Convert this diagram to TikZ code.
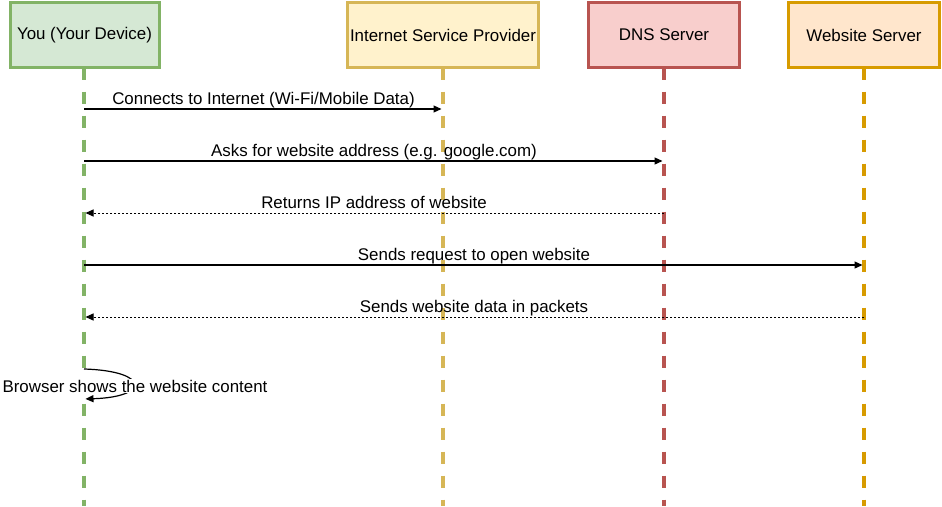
\documentclass[tikz,border=0pt]{standalone}
\usepackage{fontspec}
\setmainfont{Liberation Sans}
\usetikzlibrary{arrows.meta}
\definecolor{gstroke}{HTML}{82B366}\definecolor{gfill}{HTML}{D5E8D4}
\definecolor{ystroke}{HTML}{D6B656}\definecolor{yfill}{HTML}{FFF2CC}
\definecolor{rstroke}{HTML}{B85450}\definecolor{rfill}{HTML}{F8CECC}
\definecolor{ostroke}{HTML}{D79B00}\definecolor{ofill}{HTML}{FFE6CC}
\tikzset{
  every node/.style={font=\fontsize{16.9}{20}\selectfont, text=black},
  head/.style={draw, line width=3pt, minimum height=65pt, inner sep=0pt},
  life/.style={line width=3.3pt, dash pattern=on 12pt off 12pt},
  msg/.style={line width=1.2pt, -{Triangle[length=8pt,width=7pt]}, shorten >=1.5pt},
  ret/.style={msg, line width=1pt, dash pattern=on 2pt off 2pt},
  lbl/.style={midway, anchor=base, yshift=4.5pt, inner sep=0pt},
}
\begin{document}
\begin{tikzpicture}[x=1pt,y=-1pt]
\useasboundingbox (0,0) rectangle (942,506);
% header boxes (placeholders for positions)
\node[head, minimum width=149pt, draw=none] (you) at (84.5,35) {};
\node[head, minimum width=191pt, draw=none] (isp) at (443,35) {};
\node[head, minimum width=151pt, draw=none] (dns) at (664,35) {};
\node[head, minimum width=151pt, draw=none] (web) at (864,35) {};
% lifelines
\draw[life, gstroke] (84,67.5) -- (84,506);
\draw[life, ystroke] (443,67.5) -- (443,506);
\draw[life, rstroke] (664,67.5) -- (664,506);
\draw[life, ostroke] (864,67.5) -- (864,506);
% header boxes
\node[head, minimum width=149pt, draw=gstroke, fill=gfill] at (you) {You (Your Device)};
\node[head, minimum width=191pt, draw=ystroke, fill=yfill] at (isp) {Internet Service Provider};
\node[head, minimum width=151pt, draw=rstroke, fill=rfill] at (dns) {DNS Server};
\node[head, minimum width=151pt, draw=ostroke, fill=ofill] at (web) {Website Server};
% message points
\coordinate (y1) at (84,109);  \coordinate (i1) at (443,109);
\coordinate (y2) at (84,161);  \coordinate (d2) at (664,161);
\coordinate (d3) at (664,213); \coordinate (y3) at (84,213);
\coordinate (y4) at (84,265);  \coordinate (w4) at (864,265);
\coordinate (w5) at (864,317); \coordinate (y5) at (84,317);
\coordinate (s1) at (84,369);  \coordinate (s2) at (84,399);
\draw[msg] (y1) -- (i1) node[lbl] {Connects to Internet (Wi-Fi/Mobile Data)};
\draw[msg] (y2) -- (d2) node[lbl] {Asks for website address (e.g. google.com)};
\draw[ret] (d3) -- (y3) node[lbl] {Returns IP address of website};
\draw[msg] (y4) -- (w4) node[lbl] {Sends request to open website};
\draw[ret] (w5) -- (y5) node[lbl] {Sends website data in packets};
\draw[msg] (s1) .. controls (150,371) and (150,397) .. (s2);
\node[fill=white, inner xsep=0pt, inner ysep=1pt] (slbl) at (135,386) {Browser shows the website content};
\end{tikzpicture}
\end{document}
